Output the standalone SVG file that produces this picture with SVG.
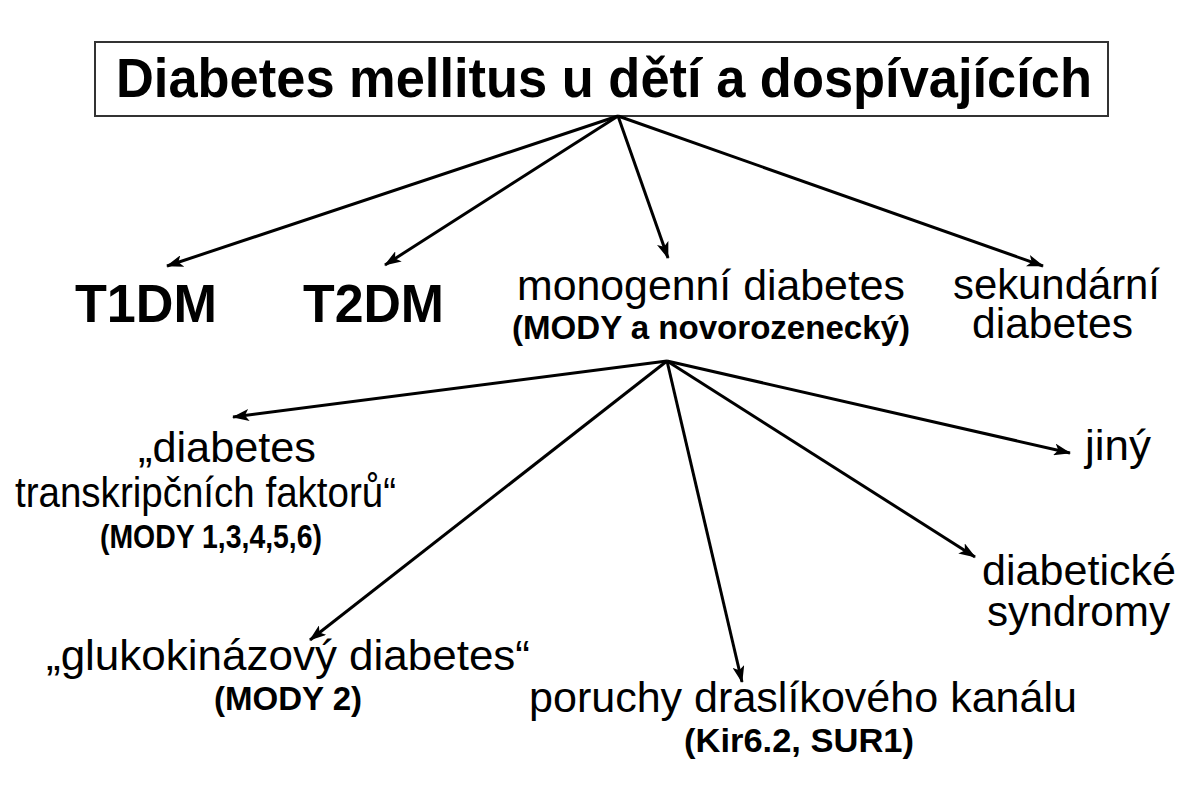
<svg xmlns="http://www.w3.org/2000/svg" width="1199" height="800" viewBox="0 0 1199 800">
<style>
.t{font-family:"Liberation Sans",Arial,sans-serif;fill:#000}
.r{font-size:42px}
.b{font-weight:bold}
.big{font-size:53px;font-weight:bold}
.p{font-size:33px;font-weight:bold}
.c{stroke:#000;stroke-width:3;fill:none;marker-end:url(#ah)}
</style>
<defs>
<marker id="ah" markerUnits="userSpaceOnUse" markerWidth="18" markerHeight="12" refX="16" refY="6" orient="auto">
<path d="M0,0 L17,6 L0,12 L4,6 z" fill="#000"/>
</marker>
</defs>
<rect width="1199" height="800" fill="#fff"/>
<g id="title">
<rect x="95" y="42" width="1013" height="74" fill="#fff" stroke="#333" stroke-width="2"/>
<text class="t b" x="116" y="97" font-size="55" textLength="976" lengthAdjust="spacingAndGlyphs">Diabetes mellitus u dětí a dospívajících</text>
</g>
<g id="connectors">
<line class="c" x1="618" y1="116" x2="167" y2="266"/>
<line class="c" x1="618" y1="116" x2="385" y2="265"/>
<line class="c" x1="618" y1="116" x2="668" y2="258"/>
<line class="c" x1="618" y1="116" x2="1043" y2="266"/>
<line class="c" x1="667" y1="361" x2="233" y2="417"/>
<line class="c" x1="667" y1="361" x2="310" y2="640"/>
<line class="c" x1="667" y1="361" x2="742" y2="682"/>
<line class="c" x1="667" y1="361" x2="975" y2="557"/>
<line class="c" x1="667" y1="361" x2="1070" y2="453"/>
</g>
<g id="t1dm"><text class="t big" x="75" y="322" textLength="142" lengthAdjust="spacingAndGlyphs">T1DM</text></g>
<g id="t2dm"><text class="t big" x="303" y="322" textLength="141" lengthAdjust="spacingAndGlyphs">T2DM</text></g>
<g id="monogenni">
<text class="t r" x="517" y="300" textLength="388" lengthAdjust="spacingAndGlyphs">monogenní diabetes</text>
<text class="t p" x="512" y="339" textLength="398" lengthAdjust="spacingAndGlyphs">(MODY a novorozenecký)</text>
</g>
<g id="sekundarni">
<text class="t r" x="953" y="299" textLength="207" lengthAdjust="spacingAndGlyphs">sekundární</text>
<text class="t r" x="972" y="338" textLength="161" lengthAdjust="spacingAndGlyphs">diabetes</text>
</g>
<g id="transkripcni">
<text class="t r" x="138" y="462" textLength="178" lengthAdjust="spacingAndGlyphs">„diabetes</text>
<text class="t r" x="15" y="507" textLength="381" lengthAdjust="spacingAndGlyphs">transkripčních faktorů“</text>
<text class="t p" x="100" y="548" textLength="222" lengthAdjust="spacingAndGlyphs">(MODY 1,3,4,5,6)</text>
</g>
<g id="glukokinazovy">
<text class="t r" x="46" y="670" textLength="484" lengthAdjust="spacingAndGlyphs">„glukokinázový diabetes“</text>
<text class="t p" x="214" y="710" textLength="148" lengthAdjust="spacingAndGlyphs">(MODY 2)</text>
</g>
<g id="poruchy">
<text class="t r" x="529" y="712" textLength="548" lengthAdjust="spacingAndGlyphs">poruchy draslíkového kanálu</text>
<text class="t p" x="684" y="752" textLength="230" lengthAdjust="spacingAndGlyphs">(Kir6.2, SUR1)</text>
</g>
<g id="diabeticke">
<text class="t r" x="982" y="585" textLength="194" lengthAdjust="spacingAndGlyphs">diabetické</text>
<text class="t r" x="987" y="626" textLength="183" lengthAdjust="spacingAndGlyphs">syndromy</text>
</g>
<g id="jiny"><text class="t r" x="1085" y="460" textLength="66" lengthAdjust="spacingAndGlyphs">jiný</text></g>
</svg>
